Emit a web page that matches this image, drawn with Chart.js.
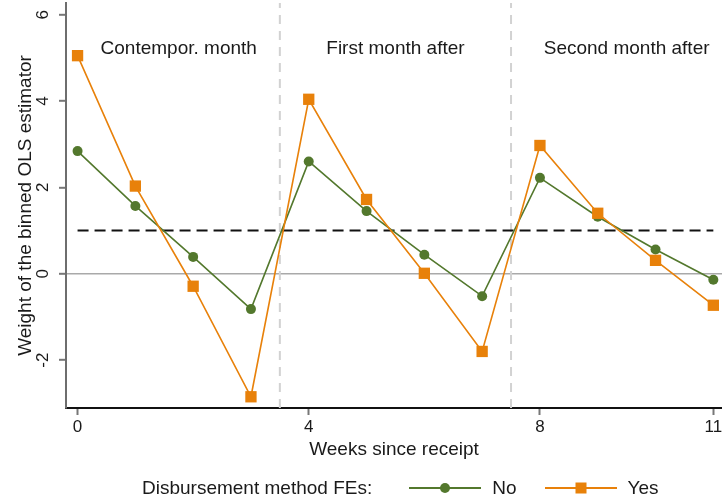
<!DOCTYPE html>
<html>
<head>
<meta charset="utf-8">
<script src="https://cdn.jsdelivr.net/npm/chart.js@4.4.1/dist/chart.umd.min.js"></script>
<style>
    html, body { margin: 0; padding: 0; background: #fff; }
    #wrap { position: relative; width: 722px; height: 504px; overflow: hidden; }
    #chart { position: absolute; left: 0; top: -20px; }
    #legend {
        position: absolute; left: 142px; top: 476px; height: 24px;
        display: flex; align-items: center;
        font: 19px "Liberation Sans", Arial, sans-serif; color: #1a1a1a;
        white-space: nowrap;
    }
    .sample { position: relative; width: 72px; height: 24px; }
    .sample .ln { position: absolute; left: 0; right: 0; top: 11px; height: 2px; }
    .sample .mk { position: absolute; left: 50%; top: 50%; transform: translate(-50%, -50%); }
</style>
</head>
<body>
<div id="wrap">
    <canvas id="chart" width="750" height="524"></canvas>
    <div id="legend"></div>
</div>
<script>
/* ---------- Data ---------- */

const weeks = [0, 1, 2, 3, 4, 5, 6, 7, 8, 9, 10, 11];
const noFE  = [2.84, 1.57, 0.39, -0.82, 2.60, 1.45, 0.44, -0.52, 2.22, 1.32, 0.56, -0.14];
const yesFE = [5.05, 2.03, -0.29, -2.85, 4.04, 1.72, 0.01, -1.80, 2.97, 1.40, 0.31, -0.73];

const xTicks = [0, 4, 8, 11];
const yTicks = [-2, 0, 2, 4, 6];

const periodNames = ["Contempor. month", "First month after", "Second month after"];
const periodEdges = [0, 3.5, 7.5, 11.5];
const refLevel = 1;

/* ---------- Config ---------- */

// canvas is a bit larger than the frame and shifted up, so the plot
// can run to the right edge and clip the "11" like the original
const FONT = '"Liberation Sans", Arial, sans-serif';
const GREEN = "#53782d";
const ORANGE = "#e8810a";
const X_MIN = -0.2, X_MAX = 11.15;
const Y_MIN = -3.11, Y_MAX = 6.27;

const pts = vals => weeks.map((w, i) => ({ x: w, y: vals[i] }));

const dividers = periodEdges.slice(1, -1).map(b => ({
    data: [{ x: b, y: Y_MIN }, { x: b, y: Y_MAX }],
    borderColor: "#d2d2d2",
    borderWidth: 2,
    borderDash: [9, 7],
    pointRadius: 0,
    order: 4
}));

/* ---------- Period labels ---------- */

const periodText = {
    id: "periodText",
    afterDatasetsDraw(chart) {
        const { ctx, scales: { x, y } } = chart;
        ctx.save();
        ctx.font = "19px " + FONT;
        ctx.fillStyle = "#1a1a1a";
        ctx.textAlign = "center";
        ctx.textBaseline = "middle";
        periodNames.forEach((name, i) => {
            const mid = (periodEdges[i] + periodEdges[i + 1]) / 2;
            ctx.fillText(name, x.getPixelForValue(mid), y.getPixelForValue(5.2));
        });
        ctx.restore();
    }
};

/* ---------- Chart ---------- */

new Chart(document.getElementById("chart"), {
    type: "line",
    data: {
        datasets: [
            {
                label: "Yes",
                data: pts(yesFE),
                borderColor: ORANGE,
                backgroundColor: ORANGE,
                borderWidth: 1.6,
                pointStyle: "rect",
                pointRadius: 8,
                pointBorderWidth: 0,
                order: 0
            },
            {
                label: "No",
                data: pts(noFE),
                borderColor: GREEN,
                backgroundColor: GREEN,
                borderWidth: 1.6,
                pointStyle: "circle",
                pointRadius: 5,
                pointBorderWidth: 0,
                order: 1
            },
            {
                data: [{ x: weeks[0], y: refLevel }, { x: weeks[weeks.length - 1], y: refLevel }],
                borderColor: "#111",
                borderWidth: 2,
                borderDash: [11, 6],
                pointRadius: 0,
                order: 3
            },
            ...dividers
        ]
    },
    options: {
        responsive: false,
        animation: false,
        layout: { padding: { top: 23, right: 28, bottom: 43, left: 0 } },
        plugins: { legend: { display: false }, tooltip: { enabled: false } },
        scales: {
            x: {
                type: "linear",
                min: X_MIN,
                max: X_MAX,
                afterBuildTicks: s => { s.ticks = xTicks.map(v => ({ value: v })); },
                afterFit: s => { s.height = 53; },
                border: { color: "#111", width: 2 },
                grid: { drawOnChartArea: false, tickLength: 7, tickColor: "#777", tickWidth: 2 },
                ticks: { font: { family: FONT, size: 17 }, color: "#1a1a1a", padding: 2, maxRotation: 0 },
                title: {
                    display: true,
                    text: "Weeks since receipt",
                    font: { family: FONT, size: 19 },
                    color: "#1a1a1a",
                    padding: 0
                }
            },
            y: {
                type: "linear",
                min: Y_MIN,
                max: Y_MAX,
                afterBuildTicks: s => { s.ticks = yTicks.map(v => ({ value: v })); },
                afterFit: s => { s.width = 66; },
                border: { color: "#6e6e6e", width: 2 },
                grid: {
                    color: c => (c.tick && c.tick.value === 0 ? "#a9a9a9" : "rgba(0,0,0,0)"),
                    lineWidth: 1.6,
                    tickLength: 7,
                    tickColor: "#777",
                    tickWidth: 2
                },
                ticks: {
                    font: { family: FONT, size: 17 },
                    color: "#1a1a1a",
                    minRotation: 90,
                    maxRotation: 90,
                    crossAlign: "center",
                    padding: 8
                },
                title: {
                    display: true,
                    text: "Weight of the binned OLS estimator",
                    font: { family: FONT, size: 19 },
                    color: "#1a1a1a",
                    padding: { top: 14, bottom: 0 }
                }
            }
        }
    },
    plugins: [periodText]
});

/* ---------- Legend ---------- */

function sample(color, marker) {
    const mk = marker === "circle"
        ? `<div class="mk" style="width:10px;height:10px;border-radius:50%;background:${color}"></div>`
        : `<div class="mk" style="width:11px;height:11px;background:${color}"></div>`;
    return `<div class="sample"><div class="ln" style="background:${color}"></div>${mk}</div>`;
}

document.getElementById("legend").innerHTML =
    `<span>Disbursement method FEs:</span>` +
    `<span style="width:37px"></span>` + sample(GREEN, "circle") +
    `<span style="margin-left:11px">No</span>` +
    `<span style="width:28px"></span>` + sample(ORANGE, "rect") +
    `<span style="margin-left:11px">Yes</span>`;
</script>
</body>
</html>
